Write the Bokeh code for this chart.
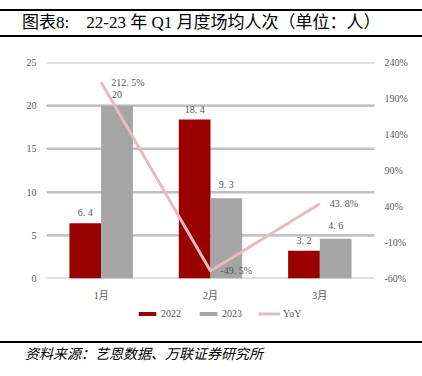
from bokeh.plotting import figure
from bokeh.models import (ColumnDataSource, FactorRange, Range1d, LinearAxis, FixedTicker,
                          NumeralTickFormatter, Legend, LegendItem, Div, LabelSet)
from bokeh.layouts import column
from bokeh.transform import dodge
from bokeh.core.properties import value
from bokeh.embed import file_html
from bokeh.resources import INLINE

# ---- data ----
months = ["1月", "2月", "3月"]
v2022 = [6.4, 18.4, 3.2]
v2023 = [20, 9.3, 4.6]
yoy = [2.125, -0.495, 0.438]
lab2022 = ["6. 4", "18. 4", "3. 2"]
lab2023 = ["20", "9. 3", "4. 6"]
labyoy = ["212. 5%", "-49. 5%", "43. 8%"]
series_names = ["2022", "2023", "YoY"]
left_ticks = [0, 5, 10, 15, 20, 25]
right_ticks = [-0.6, -0.1, 0.4, 0.9, 1.4, 1.9, 2.4]

C22 = "#990000"
C23 = "#A5A5A5"
CYOY = "#E6BCBC"
TXT = "#595959"
GRID = "#BFBFBF"
FONT = "Liberation Serif, Noto Sans CJK SC"

src = ColumnDataSource(dict(m=months, v22=v2022, v23=v2023, yoy=yoy,
                            l22=lab2022, l23=lab2023, ly=labyoy))

p = figure(x_range=FactorRange(*months, range_padding=0), y_range=Range1d(0, 25),
           width=422, height=268, output_backend="svg", toolbar_location=None,
           min_border_left=46, min_border_right=48, min_border_top=24, min_border_bottom=28)
p.extra_y_ranges = {"yoy": Range1d(-0.6, 2.4)}
p.outline_line_color = None
p.xgrid.grid_line_color = None
p.ygrid.grid_line_color = GRID
p.ygrid.grid_line_width = 2

# gridlines as segments spanning the whole categorical range (synthetic coords 0..n)
n_cat = len(months)
grid_src = ColumnDataSource(dict(x0=[0] * len(left_ticks), x1=[n_cat] * len(left_ticks),
                                 y=left_ticks))
p.segment(x0="x0", x1="x1", y0="y", y1="y", source=grid_src, line_color=GRID, line_width=2)

bw = 0.29
p.vbar(x=dodge("m", -bw / 2, range=p.x_range), top="v22", width=bw, source=src,
       fill_color=C22, line_color=None)
p.vbar(x=dodge("m", bw / 2, range=p.x_range), top="v23", width=bw, source=src,
       fill_color=C23, line_color=None)
p.line(x="m", y="yoy", source=src, y_range_name="yoy", line_color=CYOY, line_width=3)

lab_kw = dict(text_font=value(FONT), text_font_size="10px", text_color=TXT, text_align="center",
              text_baseline="bottom")
p.add_layout(LabelSet(x=dodge("m", -bw / 2, range=p.x_range), y="v22", text="l22", source=src,
                      y_offset=5, **lab_kw))
p.add_layout(LabelSet(x=dodge("m", bw / 2, range=p.x_range), y="v23", text="l23", source=src,
                      y_offset=8, **lab_kw))
p.add_layout(LabelSet(x="m", y="yoy", text="ly", source=src, y_range_name="yoy",
                      x_offset=10, text_font=value(FONT), text_font_size="10px", text_color=TXT,
                      text_align="left", text_baseline="middle"))

# axes
p.yaxis.ticker = FixedTicker(ticks=left_ticks)
for ax in [p.xaxis[0], p.yaxis[0]]:
    ax.axis_line_color = None
    ax.major_tick_line_color = None
    ax.minor_tick_line_color = None
    ax.major_label_text_font = FONT
    ax.major_label_text_font_size = "10px"
    ax.major_label_text_color = TXT
p.yaxis.major_label_standoff = 4
p.xaxis.major_label_standoff = 5

ax2 = LinearAxis(y_range_name="yoy", ticker=FixedTicker(ticks=right_ticks),
                 formatter=NumeralTickFormatter(format="0%"))
ax2.axis_line_color = None
ax2.major_tick_line_color = None
ax2.minor_tick_line_color = None
ax2.major_label_text_font = FONT
ax2.major_label_text_font_size = "10px"
ax2.major_label_text_color = TXT
ax2.major_label_standoff = 4
p.add_layout(ax2, "right")

# legend in its own small figure (zero-size proxy glyphs)
pl = figure(width=422, height=32, x_range=Range1d(0, 1), y_range=Range1d(0, 1),
            output_backend="svg", toolbar_location=None, x_axis_location=None,
            y_axis_location=None, min_border_left=46, min_border_right=48,
            min_border_top=0, min_border_bottom=0)
pl.outline_line_color = None
pl.xgrid.grid_line_color = None
pl.ygrid.grid_line_color = None
proxy = ColumnDataSource(dict(x=[0.0], y=[0.0]))
g22 = pl.vbar(x="x", top="y", bottom="y", width=0.0, source=proxy, fill_color=C22, line_color=None)
g23 = pl.vbar(x="x", top="y", bottom="y", width=0.0, source=proxy, fill_color=C23, line_color=None)
gy = pl.line(x="x", y="y", source=proxy, line_color=CYOY, line_width=3)
legend = Legend(items=[LegendItem(label=series_names[0], renderers=[g22]),
                       LegendItem(label=series_names[1], renderers=[g23]),
                       LegendItem(label=series_names[2], renderers=[gy])],
                orientation="horizontal", location=(90, 19),
                glyph_width=22, glyph_height=5, label_height=12, label_standoff=3, spacing=16,
                padding=0, margin=0, border_line_alpha=0, background_fill_alpha=0,
                label_text_font=FONT, label_text_font_size="10px", label_text_color=TXT)
pl.add_layout(legend)

title = Div(width=422, height=38, margin=0, text=(
    "<div style=\"box-sizing:border-box;width:422px;height:28px;border-top:2px solid #000;"
    "border-bottom:2px solid #000;margin-top:9px;padding-left:22px;font-family:'Liberation Serif','Noto Sans CJK SC';"
    "font-size:17px;line-height:24px;color:#000;white-space:pre;\">"
    "图表8:    22-23 年 Q1 月度场均人次（单位：人）</div>"))

footer = Div(width=422, height=38, margin=0, text=(
    "<div style=\"box-sizing:border-box;width:422px;height:35px;border-top:2px solid #000;"
    "margin-top:3px;padding-left:25px;font-family:'Liberation Serif','Noto Sans CJK SC';"
    "font-size:14px;line-height:24px;font-style:italic;color:#000;\">"
    "资料来源：艺恩数据、万联证券研究所</div>"))

layout = column(title, p, pl, footer, spacing=0)
open("out.html", "w").write(file_html(layout, INLINE))
